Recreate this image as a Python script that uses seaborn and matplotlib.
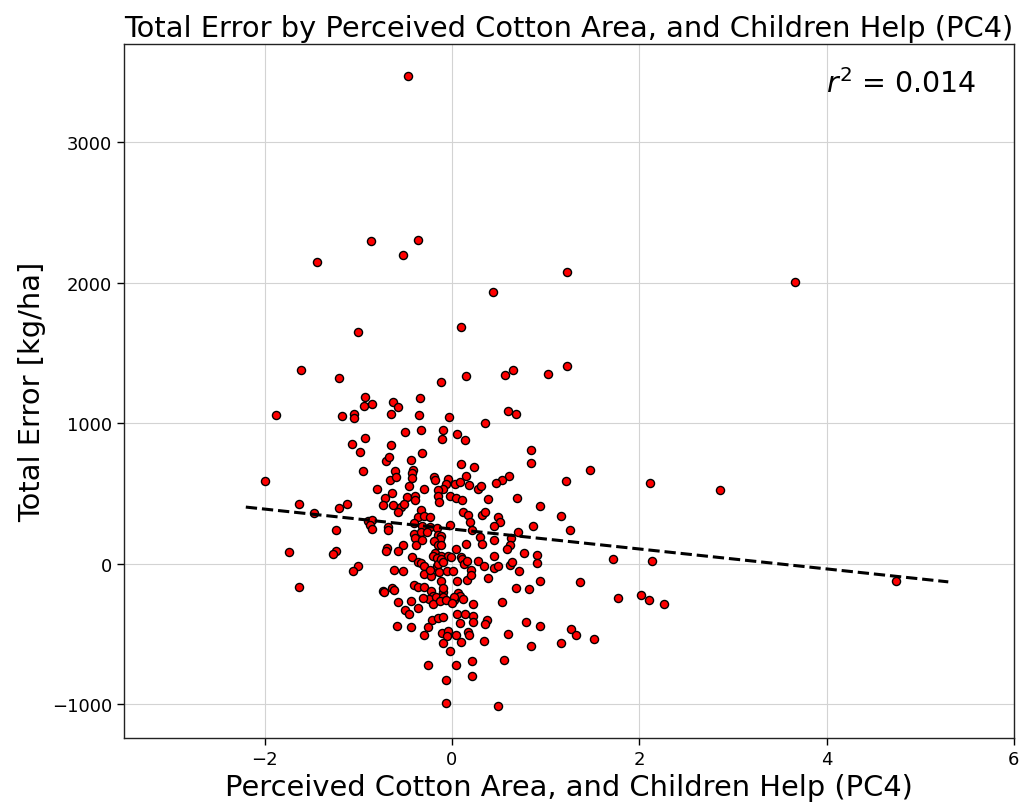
import numpy as np
import pandas as pd
import matplotlib
matplotlib.use("Agg")
import matplotlib.pyplot as plt
import seaborn as sns

# PC4 score and total yield-estimate error for each farmer
pc4 = [
    -0.47, -0.86, -0.36, -0.52, -1.44, 1.23, 0.44, 3.66, 0.10, -1.00,
    -1.61, 0.15, -1.20, -0.12, 1.03, 1.23, 0.57, 0.65, -0.93, -0.94,
    -0.85, -0.63, -0.57, -0.34, -0.65, -0.35, -1.88, -1.17, -1.05, -1.04,
    -0.03, 0.60, 0.68, 0.35, -0.50, -0.33, -0.10, -0.11, 0.06, 0.14,
    -1.07, -0.93, -0.65, -0.98, -0.32, -0.70, -0.67, -0.44, 0.84, 0.85,
    0.10, 0.24, -2.00, -0.95, -0.61, -0.41, -0.43, -0.66, -0.60, -0.43,
    -0.19, -0.18, -0.04, 0.15, 1.22, 0.61, 0.54, 0.47, -0.06, -0.09,
    0.03, 0.09, 0.18, 0.28, 0.31, -0.46, -0.30, -0.15, -0.15, -0.14,
    -0.80, -0.64, -0.71, -0.48, -0.39, -0.39, -0.02, 0.04, 0.11, 0.39,
    0.69, 0.94, -1.63, -1.12, -1.20, -0.73, -0.63, -0.54, -0.51, -0.57,
    -1.47, -0.33, -0.36, -0.30, -0.23, 0.12, 0.17, 0.32, 0.35, 0.49,
    0.51, 0.45, 0.19, 1.16, 0.87, 1.26, 0.22, 0.71, -0.90, -0.85,
    -0.87, -0.85, -0.68, -0.68, -0.40, -0.23, -0.16, -0.02, -0.32, -1.24,
    -0.40, -0.33, -0.27, -0.39, -0.15, -0.12, -0.13, -0.38, -0.32, -0.19,
    -0.15, -0.12, 0.15, 0.04, -0.69, -0.70, -0.52, -0.57, -1.74, -1.24,
    -1.27, -0.43, -0.18, -0.20, -0.12, -0.04, -0.01, 0.30, 0.32, 0.45,
    0.63, 0.62, 0.59, 0.77, 0.91, 0.45, 0.10, -0.36, -0.33, -0.30,
    -0.16, -0.16, -1.00, -1.06, -0.62, -0.52, -0.30, -0.22, -0.14, -0.23,
    -0.15, -0.12, -0.10, -0.05, -0.12, 0.11, 0.13, 0.16, 0.05, 0.16,
    -0.40, -0.36, -0.30, -0.73, -0.64, -0.62, -0.22, -0.20, -0.24, -0.17,
    -0.10, -0.09, -0.57, -0.44, -0.31, -0.36, -0.20, -0.13, -0.06, 0.02,
    0.07, 0.09, -0.50, -0.46, 0.05, 0.14, 0.09, -0.21, -0.15, -0.59,
    -0.44, -0.26, -0.30, -0.11, -0.04, -0.05, 0.04, 0.10, -0.09, -0.02,
    0.17, 0.18, -0.26, 0.04, -0.06, -0.06, 0.49, 0.28, 0.34, 0.45,
    0.49, 0.62, 0.64, 0.01, 0.20, 0.20, 0.72, 0.39, 0.94, 0.68,
    0.82, -0.09, 0.02, 0.00, 0.12, 0.23, 0.54, 0.23, 0.23, -0.10,
    0.38, 0.35, 0.79, 0.94, 1.27, 0.34, 0.60, 0.84, 1.17, 0.22,
    0.56, 0.22, 1.47, 2.12, 2.86, 1.72, 2.14, 1.37, 1.77, 2.02,
    2.10, 2.27, 1.33, 1.52, 4.74, 0.91, -1.63, -0.72,
]
total_error = [
    3472, 2300, 2308, 2201, 2151, 2080, 1938, 2009, 1683, 1647,
    1377, 1335, 1321, 1292, 1349, 1406, 1342, 1377, 1186, 1122,
    1136, 1150, 1115, 1179, 1065, 1058, 1058, 1051, 1065, 1037,
    1044, 1086, 1065, 1001, 937, 951, 951, 888, 923, 880,
    852, 895, 845, 795, 788, 731, 760, 738, 809, 717,
    710, 689, 589, 660, 660, 667, 646, 596, 618, 611,
    618, 596, 604, 625, 589, 625, 596, 575, 568, 533,
    568, 582, 561, 533, 554, 554, 533, 525, 483, 440,
    533, 504, 469, 476, 483, 454, 483, 469, 454, 462,
    469, 412, 426, 426, 398, 419, 419, 405, 426, 369,
    362, 383, 334, 341, 334, 369, 348, 348, 369, 334,
    298, 270, 298, 341, 270, 241, 241, 227, 305, 312,
    277, 249, 263, 241, 291, 263, 256, 277, 270, 241,
    213, 227, 227, 185, 206, 199, 178, 135, 170, 163,
    135, 135, 142, 107, 114, 92, 135, 92, 85, 92,
    71, 50, 78, 57, 57, 57, 50, 192, 142, 170,
    185, 135, 107, 78, 64, 57, 50, 14, 7, -14,
    43, -14, -14, -50, -43, -50, -71, -85, -57, -43,
    0, 36, 14, -50, -121, 36, 0, 21, -121, -114,
    -149, -163, -163, -192, -170, -185, -192, -227, -249, -234,
    -199, -234, -270, -263, -241, -312, -284, -263, -256, -256,
    -206, -227, -327, -355, -355, -355, -419, -398, -383, -447,
    -454, -454, -511, -490, -476, -518, -511, -554, -568, -625,
    -483, -511, -724, -724, -831, -994, -1015, 21, -14, -28,
    -14, -7, 14, -50, -43, -78, -50, -99, -121, -170,
    -178, -170, -234, -277, -249, -284, -270, -369, -412, -376,
    -398, -426, -412, -447, -462, -547, -497, -589, -561, -696,
    -682, -802, 667, 575, 525, 36, 21, -128, -241, -220,
    -256, -284, -504, -533, -121, 7, -163, -199,
]

# fitted trend (intercept, slope) and its plotted span
trend_intercept = 247.0
trend_slope = -71.0
trend_span = [-2.2, 5.3]

r_squared_text = "$r^2$ = 0.014"
x_ticks = [-2, 0, 2, 4, 6]
y_ticks = [-1000, 0, 1000, 2000, 3000]

df = pd.DataFrame({"pc4": pc4, "total_error": total_error})
line_x = np.array(trend_span)
line_df = pd.DataFrame({"x": line_x, "y": trend_intercept + trend_slope * line_x})

sns.set_theme(style="ticks")
plt.rcParams["font.family"] = ["DejaVu Sans"]
plt.rcParams["text.color"] = "black"
plt.rcParams["axes.labelcolor"] = "black"

fig = plt.figure(figsize=(10.21, 8.04), dpi=100)
ax = fig.add_axes([0.1215, 0.081, 0.8715, 0.863])

sns.scatterplot(data=df, x="pc4", y="total_error", ax=ax, color="red",
                edgecolor="black", linewidth=1.0, s=34, zorder=3)
sns.lineplot(data=line_df, x="x", y="y", ax=ax, color="black",
             linestyle="--", linewidth=2.2, zorder=4)

ax.set_xlim(-3.5, 6)
ax.set_ylim(-1240, 3700)
ax.set_xticks(x_ticks)
ax.set_yticks(y_ticks)
ax.grid(True, color="#d3d3d3", linewidth=0.8)
ax.set_axisbelow(True)
for sp in ax.spines.values():
    sp.set_color("#222222")
    sp.set_linewidth(1.0)
ax.tick_params(axis="both", colors="black", labelsize=13, length=5, width=1)

ax.set_title("Total Error by Perceived Cotton Area, and Children Help (PC4)",
             fontsize=20.8, pad=6)
ax.set_xlabel("Perceived Cotton Area, and Children Help (PC4)", fontsize=20.8)
ax.set_ylabel("Total Error [kg/ha]", fontsize=20.8)
ax.text(0.958, 0.965, r_squared_text, transform=ax.transAxes,
        ha="right", va="top", fontsize=20.5)

fig.savefig("out.png", dpi=100)
